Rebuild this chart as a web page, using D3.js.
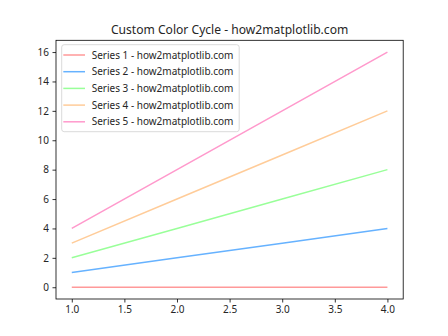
<!DOCTYPE html>
<html>
<head>
<meta charset="utf-8">
<script src="https://cdn.jsdelivr.net/npm/d3@7"></script>
<style>
  html, body { margin: 0; padding: 0; background: #fff; overflow: hidden; }
  svg { display: block; }
  svg text { font-family: "Noto Sans", "Open Sans", sans-serif; fill: #262626; }
</style>
</head>
<body>
<div id="chart"></div>
<script>
// Chart data
const xValues = [1, 2, 3, 4];
const seriesNames = [
  "Series 1 - how2matplotlib.com",
  "Series 2 - how2matplotlib.com",
  "Series 3 - how2matplotlib.com",
  "Series 4 - how2matplotlib.com",
  "Series 5 - how2matplotlib.com",
];
const series1 = [0, 0, 0, 0];
const series2 = [1, 2, 3, 4];
const series3 = [2, 4, 6, 8];
const series4 = [3, 6, 9, 12];
const series5 = [4, 8, 12, 16];
const seriesColors = ["#FF9999", "#66B2FF", "#99FF99", "#FFCC99", "#FF99CC"];
const xTicks = [1.0, 1.5, 2.0, 2.5, 3.0, 3.5, 4.0];
const yTicks = [0, 2, 4, 6, 8, 10, 12, 14, 16];
const titleText = "Custom Color Cycle - how2matplotlib.com";

const width = 448;
const height = 336;
const margin = { top: 40.3, right: 44.8, bottom: 37, left: 56 };
const innerWidth = width - margin.left - margin.right;
const innerHeight = height - margin.top - margin.bottom;

const allData = [series1, series2, series3, series4, series5].map((vals, i) => ({
  name: seriesNames[i],
  color: seriesColors[i],
  values: vals.map((v, j) => ({ x: xValues[j], y: v })),
}));

const svg = d3
  .select("#chart")
  .append("svg")
  .attr("width", width)
  .attr("height", height);

const g = svg
  .append("g")
  .attr("transform", `translate(${margin.left},${margin.top})`);

// matplotlib-style 5% margins
const x = d3.scaleLinear().domain([0.85, 4.15]).range([0, innerWidth]);
const y = d3.scaleLinear().domain([-0.8, 16.8]).range([innerHeight, 0]);

// Axes
const xAxis = d3
  .axisBottom(x)
  .tickValues(xTicks)
  .tickFormat(d3.format(".1f"))
  .tickSize(3.5)
  .tickPadding(3.5);

const yAxis = d3
  .axisLeft(y)
  .tickValues(yTicks)
  .tickFormat(d3.format("d"))
  .tickSize(3.5)
  .tickPadding(3.5);

const gx = g.append("g")
  .attr("transform", `translate(0,${innerHeight})`)
  .call(xAxis);
const gy = g.append("g").call(yAxis);

[gx, gy].forEach((ax) => {
  ax.select(".domain").remove();
  ax.selectAll(".tick line").attr("stroke", "#000").attr("stroke-width", 0.8);
  ax.selectAll(".tick text").style("font-size", "10px").attr("fill", "#262626");
});

// Lines
const line = d3
  .line()
  .x((d) => x(d.x))
  .y((d) => y(d.y));

g.selectAll(".line")
  .data(allData)
  .enter()
  .append("path")
  .attr("class", "line")
  .attr("d", (d) => line(d.values))
  .style("fill", "none")
  .style("stroke", (d) => d.color)
  .style("stroke-width", 1.5);

// Spines
g.append("rect")
  .attr("width", innerWidth)
  .attr("height", innerHeight)
  .style("fill", "none")
  .style("stroke", "#000")
  .style("stroke-width", 0.8);

// Title
svg.append("text")
  .attr("x", margin.left + innerWidth / 2)
  .attr("y", margin.top - 6.5)
  .attr("text-anchor", "middle")
  .style("font-size", "12.1px")
  .text(titleText);

// Legend
const legend = g.append("g").attr("transform", "translate(5.7,4.4)");

legend.append("rect")
  .attr("width", 177.5)
  .attr("height", 87)
  .attr("rx", 2.5)
  .style("fill", "rgba(255,255,255,0.8)")
  .style("stroke", "#d0d0d0")
  .style("stroke-width", 0.8);

const items = legend
  .selectAll(".legend-item")
  .data(allData)
  .enter()
  .append("g")
  .attr("class", "legend-item")
  .attr("transform", (d, i) => `translate(0,${10.3 + i * 16.7})`);

items.append("line")
  .attr("x1", 1.6)
  .attr("x2", 23.3)
  .style("stroke", (d) => d.color)
  .style("stroke-width", 1.5);

items.append("text")
  .attr("x", 30)
  .attr("dy", "0.35em")
  .style("font-size", "10px")
  .text((d) => d.name);
</script>
</body>
</html>
